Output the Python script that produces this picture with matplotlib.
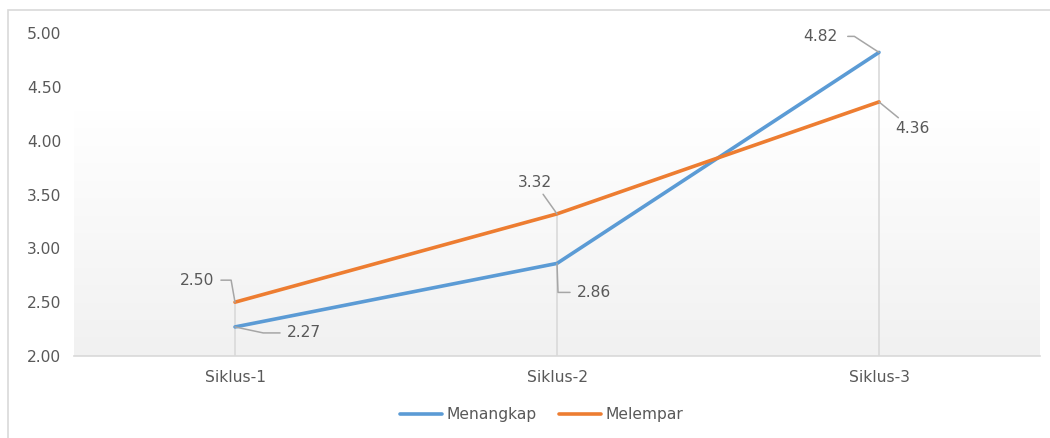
import matplotlib
matplotlib.use("Agg")
import matplotlib.pyplot as plt
import numpy as np
from matplotlib.patches import Rectangle

plt.rcParams["font.family"] = ["DejaVu Sans"]

categories = ["Siklus-1", "Siklus-2", "Siklus-3"]
menangkap = [2.27, 2.86, 4.82]
melempar = [2.50, 3.32, 4.36]
yticks = [2.00, 2.50, 3.00, 3.50, 4.00, 4.50, 5.00]

BLUE = "#5B9BD5"
ORANGE = "#ED7D31"
TXT = "#595959"
LEAD = "#A6A6A6"
GRID = "#D9D9D9"
FS = 11.2

W, H = 1050, 438
fig = plt.figure(figsize=(W / 100, H / 100), dpi=100)
fig.patch.set_facecolor("white")

# outer chart frame
fig.add_artist(Rectangle((8 / W, -0.05), 1.2, 1 - 10 / H + 0.05, transform=fig.transFigure,
                         fill=False, edgecolor=GRID, linewidth=1.2))

ax = fig.add_axes([74 / W, (H - 356) / H, (1040 - 74) / W, (356 - 33) / H])
ax.set_facecolor("none")

x = np.arange(len(categories))
ax.set_xlim(-0.5, len(categories) - 0.5)
ax.set_ylim(yticks[0], yticks[-1])

# gradient background
grad = np.linspace(0, 1, 256)
shade = np.clip(grad / 0.76, 0, 1)
top_c = np.array([1.0, 1.0, 1.0])
bot_c = np.array([0.945, 0.945, 0.945])
img = (bot_c[None, :] * (1 - shade[:, None]) + top_c[None, :] * shade[:, None])
img = img[:, None, :]
ax.imshow(img, extent=[-0.5, len(categories) - 0.5, yticks[0], yticks[-1]],
          origin="lower", aspect="auto", zorder=0)

# drop lines
for xi, a, b in zip(x, menangkap, melempar):
    ax.plot([xi, xi], [yticks[0], max(a, b)], color=GRID, lw=1.2, zorder=1)

ax.plot(x, menangkap, color=BLUE, lw=2.6, zorder=3, solid_capstyle="round", label="Menangkap")
ax.plot(x, melempar, color=ORANGE, lw=2.6, zorder=3, solid_capstyle="round", label="Melempar")

ax.set_xticks(x)
ax.set_xticklabels(categories)
ax.set_yticks(yticks)
ax.set_yticklabels([f"{v:.2f}" for v in yticks])
ax.tick_params(axis="both", length=0, labelsize=FS, labelcolor=TXT)
ax.tick_params(axis="x", pad=10)
ax.tick_params(axis="y", pad=34)
for lab in ax.get_yticklabels():
    lab.set_horizontalalignment("left")
for s in ["top", "right", "left"]:
    ax.spines[s].set_visible(False)
ax.spines["bottom"].set_color(GRID)
ax.spines["bottom"].set_linewidth(1.2)


def label(xi, yv, dx, dy, ha, va, conn, shA=3):
    ax.annotate(f"{yv:.2f}", xy=(xi, yv), xytext=(dx, dy), textcoords="offset pixels",
                ha=ha, va=va, fontsize=FS, color=TXT, zorder=5,
                arrowprops=dict(arrowstyle="-", color=LEAD, lw=1.1, shrinkA=shA, shrinkB=0,
                                connectionstyle=conn))


label(0, melempar[0], -21, 22, "right", "center", "angle,angleA=0,angleB=100,rad=0")
label(0, menangkap[0], 52, -6, "left", "center", "angle,angleA=0,angleB=-12,rad=0")
label(1, melempar[1], -22, 31, "center", "center", "arc3,rad=0", shA=1)
label(1, menangkap[1], 20, -29, "left", "center", "angle,angleA=0,angleB=92,rad=0")
label(2, menangkap[2], -41, 16, "right", "center", "angle,angleA=0,angleB=147,rad=0", shA=5)
label(2, melempar[2], 33, -27, "center", "center", "arc3,rad=0", shA=1)

leg = fig.legend(loc="center", bbox_to_anchor=(0.516, (H - 415) / H), ncol=2, frameon=False,
                 fontsize=FS, handlelength=2.7, handletextpad=0.3, columnspacing=1.4)
for t in leg.get_texts():
    t.set_color(TXT)

fig.savefig("out.png", dpi=100, facecolor="white")
